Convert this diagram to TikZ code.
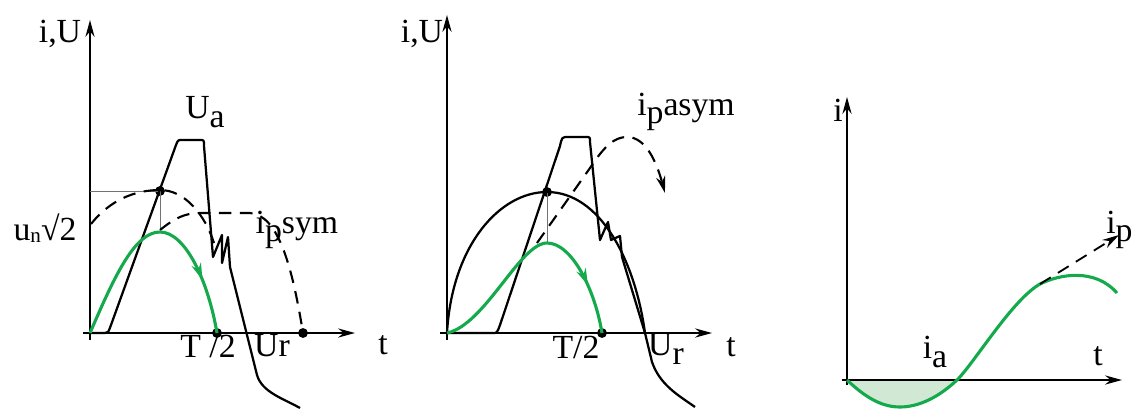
\documentclass[tikz,border=0pt]{standalone}
\usepackage{fontspec}
\setmainfont{Liberation Serif}
\usetikzlibrary{arrows.meta,decorations.markings}
\definecolor{leaf}{RGB}{20,170,75}
\definecolor{pale}{RGB}{208,232,212}
\tikzset{
  >={Stealth[length=12pt,width=6.5pt]},
  axis/.style={->,line width=1.3pt},
  wave/.style={line width=1.6pt,line join=round},
  gwave/.style={draw=leaf,line width=2.2pt},
  dwave/.style={dash pattern=on 9pt off 6pt,line width=1.5pt},
  guide/.style={draw=black!55,line width=0.5pt},
  dot/.style={circle,fill,inner sep=0pt,minimum size=7pt},
  lbl/.style={font=\fontsize{24}{26}\selectfont,inner sep=0pt},
  midarrow/.style={postaction={decorate},decoration={markings,
    mark=at position #1 with {\arrow[leaf]{Stealth[length=12pt,width=7pt]}}}},
}
\newcommand{\lo}[1]{\raisebox{-6pt}{#1}}

\begin{document}
\begin{tikzpicture}[x=0.025cm,y=-0.025cm]
  \useasboundingbox (0,0) rectangle (1133,409);
  % ---- left panel: symmetric
  \coordinate (o1) at (90,333);
  \draw[axis] (90,340) -- (90,20);
  \draw[axis] (83,333) -- (355,333);
  \node[lbl] (yl1) at (60,34) {i,U};
  \node[lbl] (tl1) at (383,345) {t};
  \node[dot] (m1) at (160,191) {};
  \node[dot] (h1) at (217,333) {};
  \node[dot] (r1) at (303,333) {};
  \coordinate (g1) at (90,191);
  \coordinate (k1) at (160,230);
  \draw[guide] (g1) -- (m1.center) -- (k1);
  \draw[wave] (o1) -- (105,333) .. controls (108,333) .. (111,325) -- (176,145)
    .. controls (178,140) .. (182,140) -- (200,140) .. controls (204,140) .. (204,146)
    -- (213,257) -- (222,235) -- (222,263) -- (228,237) -- (230,267) -- (257,375)
    .. controls (262,392) and (282,398) .. (300,408);
  \draw[wave,dwave] (91,224) .. controls (110,200) and (135,190) .. (160,190)
    .. controls (185,190) and (205,215) .. (214,243);
  \draw[wave,dwave] (k1) .. controls (175,218) and (185,213) .. (200,213) -- (250,213)
    .. controls (278,215) and (292,265) .. (r1.center);
  \draw[gwave,midarrow=0.78] (o1) .. controls (115,275) and (135,232) .. (160,232)
    .. controls (185,232) and (208,280) .. (h1.center);
  \node[lbl] (ua) at (205,112) {U\lo{a}};
  \node[lbl] (un) at (45,228) {u\raisebox{-1pt}{\fontsize{15}{15}\selectfont n}√2};
  \node[lbl] (ips) at (297,230) {i\lo{p}sym};
  \node[lbl] (half1) at (208,346) {T /2};
  \node[lbl] (ur1) at (272,346) {Ur};
  % ---- middle panel: asymmetric
  \coordinate (o2) at (447,333);
  \draw[axis] (447,340) -- (447,15);
  \draw[axis] (440,333) -- (712,333);
  \node[lbl] (yl2) at (422,34) {i,U};
  \node[lbl] (tl2) at (731,347) {t};
  \node[dot] (m2) at (547,192) {};
  \node[dot] (h2) at (602,333) {};
  \coordinate (k2) at (547,243);
  \draw[guide] (m2.center) -- (k2);
  \draw[wave] (o2) .. controls (452,245) and (500,192) .. (m2.center)
    .. controls (600,192) and (635,260) .. (645,333);
  \draw[wave] (o2) -- (493,333) .. controls (497,333) .. (500,325) -- (560,146)
    .. controls (562,137) .. (568,137) -- (586,137) .. controls (590,137) .. (590,142)
    -- (600,240) -- (608,222) -- (611,240) -- (620,236) -- (622,257) -- (645,333)
    -- (652,362) .. controls (660,385) and (678,395) .. (695,407);
  \draw[wave,dwave,->] (537,243) -- (590,168) .. controls (605,145) and (615,137) .. (627,137)
    .. controls (645,137) and (656,160) .. (665,193);
  \draw[gwave,midarrow=0.8] (o2) .. controls (485,325) and (520,243) .. (k2)
    .. controls (572,243) and (595,290) .. (h2.center);
  \node[lbl] (ipa) at (686,112) {i\lo{p}asym};
  \node[lbl] (half2) at (576,347) {T/2};
  \node[lbl] (ur2) at (666,349) {U\lo{r}};
  % ---- right panel: current
  \coordinate (o3) at (847,380);
  \coordinate (z3) at (957,380);
  \fill[pale] (o3) .. controls (868,400) and (884,407) .. (900,407)
    .. controls (920,407) and (940,396) .. (z3) -- cycle;
  \draw[axis] (847,385) -- (847,97);
  \draw[axis] (842,380) -- (1122,380);
  \node[lbl] (yl3) at (838,110) {i};
  \node[lbl] (tl3) at (1098,356) {t};
  \coordinate (s3) at (1040,284);
  \coordinate (e3) at (1119,235);
  \draw[gwave] (o3) .. controls (868,400) and (884,407) .. (900,407)
    .. controls (920,407) and (940,396) .. (z3)
    .. controls (975,362) and (1012,300) .. (s3)
    .. controls (1060,274) and (1095,268) .. (1117,293);
  \draw[wave,dwave,line width=1.3pt,->] (s3) -- (e3);
  \node[lbl] (ia) at (935,352) {i\lo{a}};
  \node[lbl,anchor=west] (ip) at (1106,230) {i\lo{p}};
\end{tikzpicture}
\end{document}
